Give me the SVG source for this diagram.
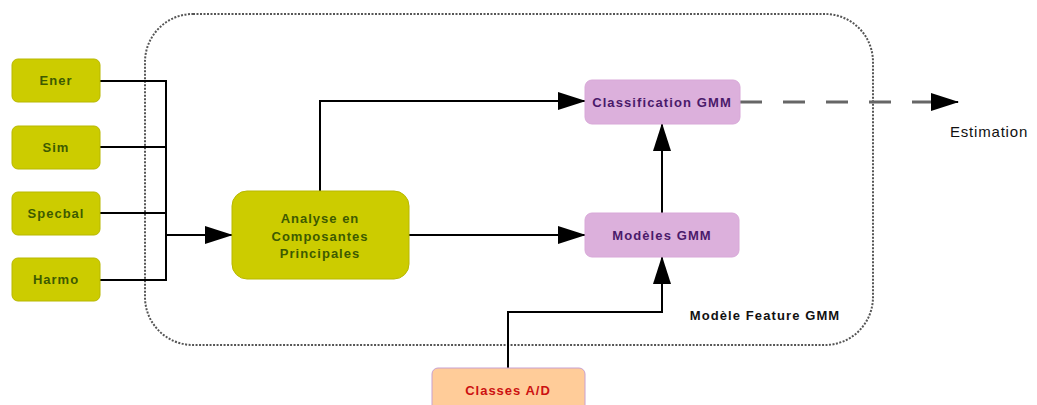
<svg xmlns="http://www.w3.org/2000/svg" width="1037" height="405" viewBox="0 0 1037 405">
<defs>
<marker id="ah" markerWidth="28" markerHeight="18" refX="27" refY="9" orient="auto" markerUnits="userSpaceOnUse"><path d="M0,0 L28,9 L0,18 Z" fill="#000"/></marker>
<style>
.y rect{fill:#cccc00;stroke:#b8b800;stroke-width:1}
.y text{fill:#3d5a00;font:bold 13px "Liberation Sans",Arial,sans-serif;letter-spacing:1px;text-anchor:middle}
.p rect{fill:#dcb0dc;stroke:#d8a8d8;stroke-width:1}
.p text{fill:#4a1a6a;font:bold 13px "Liberation Sans",Arial,sans-serif;letter-spacing:1.1px;text-anchor:middle}
.c{fill:none;stroke:#000;stroke-width:2}
</style>
</defs>
<rect x="145" y="14" width="728" height="331" rx="48" ry="48" fill="none" stroke="#555" stroke-width="2" stroke-dasharray="2,1.5"/>
<text x="765" y="320" font-family="Liberation Sans,Arial,sans-serif" font-size="13" font-weight="bold" letter-spacing="1.1" text-anchor="middle" fill="#111">Modèle Feature GMM</text>
<g id="connectors">
<path class="c" d="M100,81 H166 V280 H100 M100,147 H166 M100,213 H166"/>
<path class="c" d="M166,235 H232" marker-end="url(#ah)"/>
<path class="c" d="M320,191 V101 H585" marker-end="url(#ah)"/>
<path class="c" d="M409,235 H585" marker-end="url(#ah)"/>
<path class="c" d="M662,213 V124" marker-end="url(#ah)"/>
<path class="c" d="M508,368 V312 H662 V257" marker-end="url(#ah)"/>
<path d="M740,102 H935" fill="none" stroke="#666" stroke-width="3" stroke-dasharray="22,21"/>
<path d="M935,102 H958" fill="none" stroke="#000" stroke-width="2" marker-end="url(#ah)"/>
</g>
<g id="ener" class="y"><rect x="12" y="59" width="88" height="43" rx="6"/><text x="56" y="85">Ener</text></g>
<g id="sim" class="y"><rect x="12" y="126" width="88" height="43" rx="6"/><text x="56" y="152">Sim</text></g>
<g id="specbal" class="y"><rect x="12" y="192" width="88" height="43" rx="6"/><text x="56" y="218">Specbal</text></g>
<g id="harmo" class="y"><rect x="12" y="258" width="88" height="43" rx="6"/><text x="56" y="284">Harmo</text></g>
<g id="acp" class="y"><rect x="232" y="191" width="177" height="88" rx="15"/><text x="320" y="223">Analyse en</text><text x="320" y="241">Composantes</text><text x="320" y="258">Principales</text></g>
<g id="classif" class="p"><rect x="585" y="80" width="155" height="44" rx="7"/><text x="662" y="107">Classification GMM</text></g>
<g id="modeles" class="p"><rect x="585" y="213" width="154" height="44" rx="7"/><text x="662" y="240">Modèles GMM</text></g>
<g id="classes"><rect x="432" y="368" width="153" height="50" rx="6" fill="#ffcc99" stroke="#c8a0d0" stroke-width="1"/><text x="508" y="395" font-family="Liberation Sans,Arial,sans-serif" font-size="13" font-weight="bold" letter-spacing="1" text-anchor="middle" fill="#cc1111">Classes A/D</text></g>
<g id="estimation"><text x="950" y="137" font-family="Liberation Sans,Arial,sans-serif" font-size="15" letter-spacing="0.8" fill="#111">Estimation</text></g>
</svg>
